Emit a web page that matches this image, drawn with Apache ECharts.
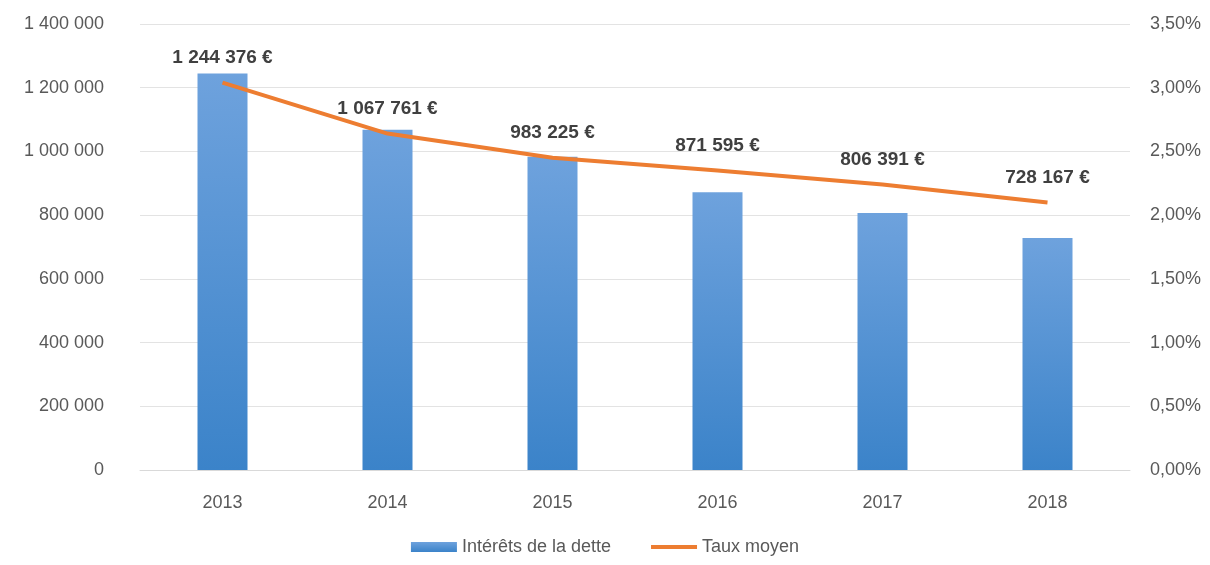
<!DOCTYPE html>
<html>
<head>
<meta charset="utf-8">
<script src="https://cdn.jsdelivr.net/npm/echarts@6/dist/echarts.min.js"></script>
<style>
  html, body { margin: 0; padding: 0; background: #fff; }
  #main { width: 1210px; height: 565px; }
</style>
</head>
<body>
<div id="main"></div>
<script>
var annees = ['2013', '2014', '2015', '2016', '2017', '2018'];
var interets = [1244376, 1067761, 983225, 871595, 806391, 728167];
var tauxMoyen = [3.04, 2.64, 2.45, 2.35, 2.24, 2.10];

// séparateur de milliers à la française
function fmt(n) {
    return String(n).replace(/\B(?=(\d{3})+(?!\d))/g, ' ');
}

var police = '"Liberation Sans", Arial, sans-serif';
var myChart = echarts.init(document.getElementById('main'));

var option = {
    animation: false,
    textStyle: { fontFamily: police },
    grid: { left: 140, right: 80, top: 24, bottom: 95 },
    legend: {
        bottom: 4,
        left: 'center',
        itemWidth: 46,
        itemHeight: 10,
        itemGap: 40,
        textStyle: { fontSize: 18, color: '#595959', fontFamily: police },
        data: [
            { name: 'Intérêts de la dette', icon: 'rect' },
            { name: 'Taux moyen', icon: 'path://M0,3 H46 V7 H0 Z M0,0 H0.01 V10 H0 Z' }
        ]
    },
    xAxis: {
        type: 'category',
        data: annees,
        axisLine: { show: true, lineStyle: { color: '#d9d9d9' } },
        axisTick: { show: false },
        axisLabel: { color: '#595959', fontSize: 18, margin: 24 }
    },
    yAxis: [
        {
            type: 'value',
            min: 0,
            max: 1400000,
            interval: 200000,
            axisLine: { show: false },
            axisTick: { show: false },
            splitLine: { lineStyle: { color: '#e3e3e3' } },
            axisLabel: { color: '#595959', fontSize: 18, margin: 36, formatter: fmt }
        },
        {
            type: 'value',
            min: 0,
            max: 3.5,
            interval: 0.5,
            axisLine: { show: false },
            axisTick: { show: false },
            splitLine: { show: false },
            axisLabel: {
                color: '#595959', fontSize: 18, margin: 20,
                formatter: function (v) { return v.toFixed(2).replace('.', ',') + '%'; }
            }
        }
    ],
    series: [
        {
            name: 'Intérêts de la dette',
            type: 'bar',
            barWidth: 50,
            itemStyle: {
                color: new echarts.graphic.LinearGradient(0, 0, 0, 1, [
                    { offset: 0, color: '#6ea2dd' },
                    { offset: 1, color: '#3b83c9' }
                ])
            },
            data: interets
        },
        {
            name: 'Taux moyen',
            type: 'line',
            yAxisIndex: 1,
            symbol: 'circle',
            symbolSize: 0.1,
            showSymbol: true,
            lineStyle: { color: '#ed7d31', width: 4 },
            itemStyle: { color: '#ed7d31' },
            label: {
                show: true,
                position: 'top',
                distance: 15,
                fontSize: 19,
                fontWeight: 'bold',
                color: '#404040',
                formatter: function (p) { return fmt(interets[p.dataIndex]) + ' €'; }
            },
            data: tauxMoyen
        }
    ]
};

myChart.setOption(option);
</script>
</body>
</html>
